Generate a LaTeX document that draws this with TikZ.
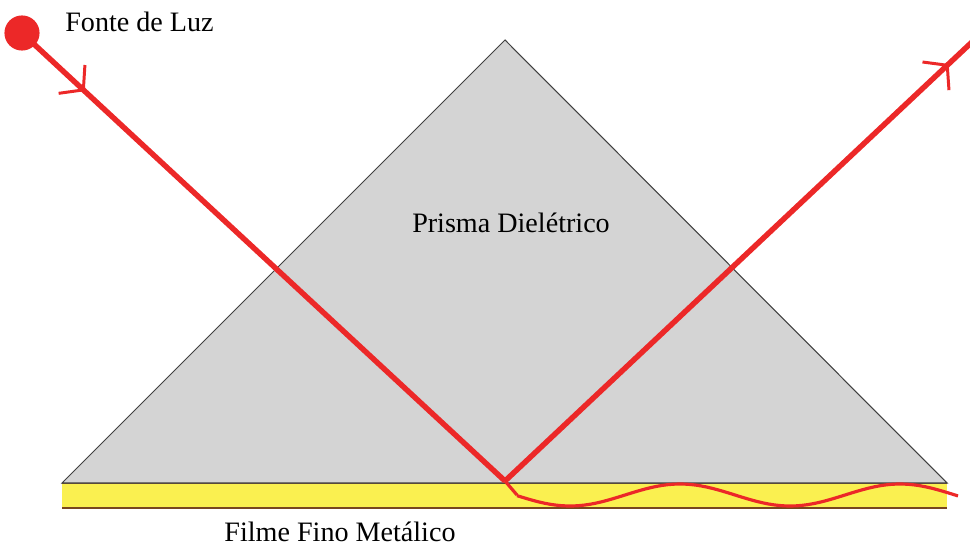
\documentclass[tikz,border=0pt]{standalone}
\usepackage{fontspec}
\setmainfont{Liberation Serif}
\usetikzlibrary{arrows.meta,decorations.markings}
\definecolor{raio}{RGB}{236,40,40}
\definecolor{vidro}{RGB}{212,212,212}
\definecolor{ouro}{RGB}{250,240,80}
\definecolor{borda}{RGB}{120,70,30}
\begin{document}
\begin{tikzpicture}[x=0.02cm, y=-0.02cm,
  feixe/.style={draw=raio, line width=3.1pt,
    postaction={decorate, decoration={markings,
      mark=at position #1 with {\arrow[raio, line width=1.7pt]{Straight Barb[length=9pt, width=22pt]}}}}},
  rotulo/.style={font=\fontsize{16}{19}\selectfont, inner sep=0pt}]
\useasboundingbox (0,0) rectangle (970,547);
% filme metalico
\fill[ouro] (62,483) rectangle (947,508);
\draw[borda, line width=0.9pt] (62,483) -- (947,483);
\draw[borda, line width=0.9pt] (62,508) -- (947,508);
% prisma
\filldraw[fill=vidro, draw=black!75, line width=0.6pt] (62,483) -- (505,40) -- (947,483) -- cycle;
\node[rotulo] (prisma) at (511,223) {Prisma Dielétrico};
\node[rotulo] (filme) at (340,532) {Filme Fino Metálico};
% fonte e feixe
\node[circle, fill=raio, minimum size=20pt, inner sep=0pt] (fonte) at (22,33) {};
\node[rotulo, anchor=west] (luz) at (65,22) {Fonte de Luz};
\coordinate (toque) at (505,481);
\coordinate (saida) at (972,42);
\path[feixe=0.13] (fonte.center) -- (toque);
\path[feixe=0.95] (toque) -- (saida);
% onda evanescente
\draw[raio, line width=1.8pt] (toque) -- (517,495)
  plot[domain=517:958, samples=80] (\x, {495-11*cos(deg(2*pi*(\x-680)/220))});
\end{tikzpicture}
\end{document}
